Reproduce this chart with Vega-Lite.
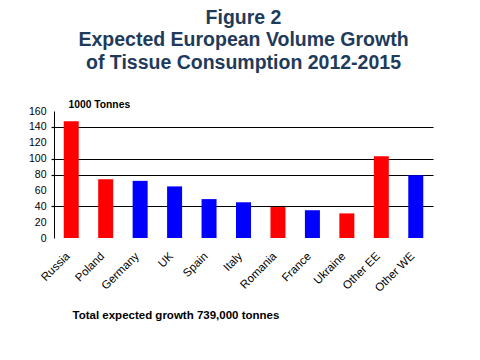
{
  "$schema": "https://vega.github.io/schema/vega-lite/v6.json",
  "autosize": "none",
  "width": 379,
  "height": 127,
  "padding": {"left": 54, "top": 111, "right": 47, "bottom": 122},
  "background": "white",
  "title": {
    "text": ["Figure 2", "Expected European Volume Growth", "of Tissue Consumption 2012-2015"],
    "anchor": "middle",
    "frame": "group",
    "font": "Liberation Sans",
    "fontSize": 19.5,
    "fontWeight": "bold",
    "color": "#1F3B5C",
    "lineHeight": 22.5,
    "offset": 26
  },
  "data": {
    "values": [
      {"country": "Russia", "growth": 147, "region": "EE"},
      {"country": "Poland", "growth": 74, "region": "EE"},
      {"country": "Germany", "growth": 72, "region": "WE"},
      {"country": "UK", "growth": 65, "region": "WE"},
      {"country": "Spain", "growth": 49, "region": "WE"},
      {"country": "Italy", "growth": 45, "region": "WE"},
      {"country": "Romania", "growth": 39, "region": "EE"},
      {"country": "France", "growth": 35, "region": "WE"},
      {"country": "Ukraine", "growth": 31, "region": "EE"},
      {"country": "Other EE", "growth": 103, "region": "EE"},
      {"country": "Other WE", "growth": 79, "region": "WE"}
    ]
  },
  "mark": {"type": "bar", "size": 15},
  "encoding": {
    "x": {
      "field": "country",
      "type": "nominal",
      "sort": null,
      "scale": {"paddingInner": 0, "paddingOuter": 0},
      "axis": {
        "title": "Total expected growth 739,000 tonnes",
        "titleX": 18,
        "titleY": 80,
        "titleAlign": "left",
        "titleBaseline": "alphabetic",
        "titleFont": "Liberation Sans",
        "titleFontSize": 11.5,
        "titleFontWeight": "bold",
        "titleColor": "black",
        "labelAngle": -45,
        "labelFont": "Liberation Sans",
        "labelFontSize": 11.5,
        "labelColor": "black",
        "labelPadding": 12,
        "labelOffset": -7,
        "domain": false,
        "ticks": false,
        "grid": false
      }
    },
    "y": {
      "field": "growth",
      "type": "quantitative",
      "scale": {"domain": [0, 160], "nice": false},
      "axis": {
        "title": "1000 Tonnes",
        "titleAngle": 0,
        "titleX": 14,
        "titleY": -4,
        "titleAlign": "left",
        "titleBaseline": "alphabetic",
        "titleFont": "Liberation Sans",
        "titleFontSize": 10.3,
        "titleFontWeight": "bold",
        "titleColor": "black",
        "values": [0, 20, 40, 60, 80, 100, 120, 140, 160],
        "labelFont": "Liberation Sans",
        "labelFontSize": 10.5,
        "labelColor": "black",
        "labelPadding": 5,
        "ticks": true,
        "tickSize": 3,
        "tickWidth": 1.2,
        "tickColor": {"condition": {"test": "datum.value == 40 || datum.value == 80 || datum.value == 100 || datum.value == 140", "value": "black"}, "value": "transparent"},
        "domain": true,
        "domainColor": "black",
        "grid": true,
        "gridColor": {"condition": {"test": "datum.value == 40 || datum.value == 80 || datum.value == 100 || datum.value == 140", "value": "black"}, "value": "transparent"},
        "gridWidth": 1.2,
        "gridOpacity": 1
      }
    },
    "color": {
      "field": "region",
      "type": "nominal",
      "scale": {"domain": ["EE", "WE"], "range": ["#FF0000", "#0000FF"]},
      "legend": null
    }
  },
  "config": {"view": {"stroke": null}}
}
